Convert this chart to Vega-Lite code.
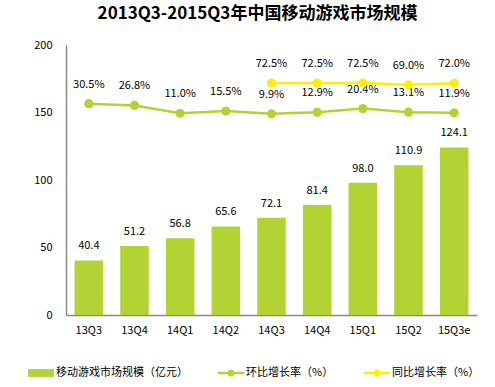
{
  "$schema": "https://vega.github.io/schema/vega-lite/v6.json",
  "width": 411,
  "height": 270,
  "autosize": {"type": "none"},
  "padding": {"left": 66, "top": 45, "right": 18, "bottom": 72},
  "background": "white",
  "title": {
    "text": "2013Q3-2015Q3年中国移动游戏市场规模",
    "font": "Noto Sans CJK SC",
    "fontSize": 17,
    "fontWeight": "bold",
    "color": "#000000",
    "anchor": "middle",
    "dx": -14,
    "offset": 16
  },
  "config": {
    "view": {"stroke": null},
    "font": "Noto Sans CJK SC",
    "axis": {"labelFont": "Noto Sans CJK SC", "labelColor": "#000000", "labelFontSize": 11},
    "legend": {"labelFont": "Noto Sans CJK SC"}
  },
  "data": {
    "values": [
      {"q": "13Q3", "size": 40.4, "qoq": 0.305, "yoy": null},
      {"q": "13Q4", "size": 51.2, "qoq": 0.268, "yoy": null},
      {"q": "14Q1", "size": 56.8, "qoq": 0.110, "yoy": null},
      {"q": "14Q2", "size": 65.6, "qoq": 0.155, "yoy": null},
      {"q": "14Q3", "size": 72.1, "qoq": 0.099, "yoy": 0.725},
      {"q": "14Q4", "size": 81.4, "qoq": 0.129, "yoy": 0.725},
      {"q": "15Q1", "size": 98.0, "qoq": 0.204, "yoy": 0.725},
      {"q": "15Q2", "size": 110.9, "qoq": 0.131, "yoy": 0.690},
      {"q": "15Q3e", "size": 124.1, "qoq": 0.119, "yoy": 0.720}
    ]
  },
  "encoding": {
    "x": {
      "field": "q",
      "type": "ordinal",
      "sort": null,
      "scale": {"paddingInner": 0.375, "paddingOuter": 0.1875},
      "axis": {
        "title": null,
        "labelAngle": 0,
        "domainColor": "#888888",
        "domainWidth": 1.5,
        "ticks": false,
        "tickSize": 0,
        "labelPadding": 9,
        "labelFontSize": 11,
        "labelColor": "#000000"
      }
    }
  },
  "layer": [
    {
      "encoding": {
        "y": {
          "field": "size",
          "type": "quantitative",
          "scale": {"domain": [0, 200]},
          "axis": {
            "title": null,
            "values": [0, 50, 100, 150, 200],
            "grid": false,
            "ticks": false,
            "tickSize": 0,
            "domainColor": "#888888",
            "domainWidth": 1.5,
            "labelPadding": 14,
            "labelFontSize": 11,
            "labelColor": "#000000"
          }
        }
      },
      "layer": [
        {
          "mark": {"type": "bar"},
          "encoding": {
            "color": {
              "datum": "移动游戏市场规模（亿元）",
              "type": "nominal",
              "scale": {
                "domain": ["移动游戏市场规模（亿元）", "环比增长率（%）", "同比增长率（%）"],
                "range": ["#b3d234", "#b3d234", "#fff000"]
              },
              "legend": {
                "orient": "none",
                "legendX": -38,
                "legendY": 315,
                "direction": "horizontal",
                "columns": 3,
                "title": null,
                "labelFont": "Noto Sans CJK SC",
                "labelFontSize": 11,
                "labelColor": "#000000",
                "symbolSize": 676,
                "columnPadding": 30,
                "labelOffset": 2,
                "symbolStrokeWidth": 0,
                "encode": {
                  "symbols": {
                    "update": {
                      "shape": {"signal": "datum.value === '移动游戏市场规模（亿元）' ? 'M-1,-0.3H1V0.3H-1Z' : 'M-1,-0.09H1V0.09H-1Z M0.27,0A0.27,0.27 0 1,1 -0.27,0A0.27,0.27 0 1,1 0.27,0Z'"},
                      "fill": {"signal": "scale('color', datum.value)"},
                      "stroke": {"value": "transparent"},
                      "opacity": {"value": 1}
                    }
                  }
                }
              }
            }
          }
        },
        {
          "mark": {"type": "text", "baseline": "middle", "dy": -14, "fontSize": 11, "font": "Noto Sans CJK SC", "color": "#000000"},
          "encoding": {"text": {"field": "size", "type": "quantitative", "format": ".1f"}}
        }
      ]
    },
    {
      "encoding": {
        "y": {
          "field": "qoq",
          "type": "quantitative",
          "scale": {"domain": [-4, 1.5]},
          "axis": null
        }
      },
      "layer": [
        {
          "mark": {"type": "line", "strokeWidth": 2.5, "point": {"filled": true, "size": 85, "opacity": 1}},
          "encoding": {"color": {"datum": "环比增长率（%）", "type": "nominal"}}
        },
        {
          "mark": {"type": "text", "baseline": "middle", "dy": -19, "fontSize": 11, "font": "Noto Sans CJK SC", "color": "#000000"},
          "encoding": {"text": {"field": "qoq", "type": "quantitative", "format": ".1%"}}
        },
        {
          "transform": [{"filter": "isValid(datum.yoy)"}],
          "mark": {"type": "line", "strokeWidth": 2.5, "point": {"filled": true, "size": 85, "opacity": 1}},
          "encoding": {
            "y": {"field": "yoy", "type": "quantitative"},
            "color": {"datum": "同比增长率（%）", "type": "nominal"}
          }
        },
        {
          "transform": [{"filter": "isValid(datum.yoy)"}],
          "mark": {"type": "text", "baseline": "middle", "dy": -19, "fontSize": 11, "font": "Noto Sans CJK SC", "color": "#000000"},
          "encoding": {
            "y": {"field": "yoy", "type": "quantitative"},
            "text": {"field": "yoy", "type": "quantitative", "format": ".1%"}
          }
        }
      ]
    }
  ],
  "resolve": {"scale": {"y": "independent"}}
}
